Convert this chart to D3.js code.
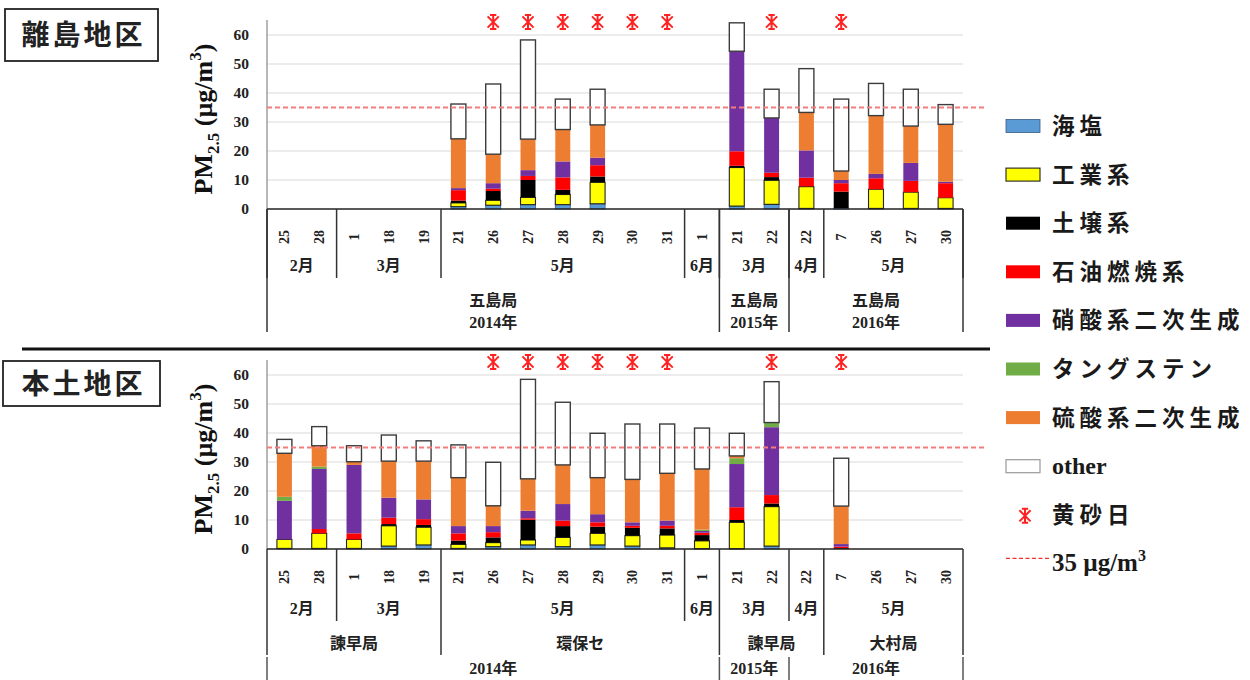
<!DOCTYPE html>
<html>
<head>
<meta charset="utf-8">
<script src="https://cdn.jsdelivr.net/npm/d3@7"></script>
<style>
  body { margin: 0; background: #fff; }
  svg { display: block; }
</style>
</head>
<body>
<svg id="chart" width="1250" height="680"></svg>
<script>
// ---- categories (sampling days) ----
const days = ["25","28","1","18","19","21","26","27","28","29","30","31","1","21","22","22","7","26","27","30"];

// month groups: [label, first index, end index (exclusive)]
const monthGroups = [["2月",0,2],["3月",2,5],["5月",5,12],["6月",12,13],["3月",13,15],["4月",15,16],["5月",16,20]];
// island panel: station + year groups
const islandStationGroups = [["五島局","2014年",0,13],["五島局","2015年",13,15],["五島局","2016年",15,20]];
// mainland panel: station groups and year groups
const mainStationGroups = [["諫早局",0,5],["環保セ",5,13],["諫早局",13,16],["大村局",16,20]];
const mainYearGroups = [["2014年",0,13],["2015年",13,15],["2016年",15,20]];

const yTicks = [0,10,20,30,40,50,60];
const guideline = 35;

// ---- component names ----
const components = ["海塩","工業系","土壌系","石油燃焼系","硝酸系二次生成","タングステン","硫酸系二次生成","other"];

// ---- 離島地区 (五島局) source contributions, µg/m3 ----
const islandSeaSalt   = [0,0,0,0,0, 0.8,1.3,1.5,1.5,1.8, 0,0,0, 1.0,1.6, 0.2,0.3,0.2,0.2,0.2];
const islandIndustry  = [0,0,0,0,0, 1.3,1.7,2.5,3.5,7.4, 0,0,0, 13.3,8.3, 7.5,0,6.6,5.6,3.7];
const islandSoil      = [0,0,0,0,0, 0.8,3.2,6.0,1.6,2.0, 0,0,0, 0.6,1.1, 0.1,5.7,0,0,0];
const islandOil       = [0,0,0,0,0, 3.6,0.8,1.4,4.3,3.9, 0,0,0, 5.0,1.5, 3.0,2.9,3.8,3.9,5.0];
const islandNitrate   = [0,0,0,0,0, 0.7,1.9,2.0,5.5,2.6, 0,0,0, 34.5,18.9, 9.4,1.1,1.5,6.2,0.5];
const islandTungsten  = [0,0,0,0,0, 0,0,0,0,0, 0,0,0, 0,0, 0,0,0,0,0];
const islandSulfate   = [0,0,0,0,0, 17.0,10.0,10.7,11.0,11.3, 0,0,0, 0,0, 13.1,3.1,20.1,12.7,19.8];
const islandOther     = [0,0,0,0,0, 12.0,24.2,34.2,10.5,12.3, 0,0,0, 9.8,9.9, 15.1,24.8,11.1,12.7,6.8];
const islandKosa      = [0,0,0,0,0, 0,1,1,1,1, 1,1,0, 0,1, 0,1,0,0,0];

// ---- 本土地区 source contributions, µg/m3 ----
const mainSeaSalt   = [0.2,0.2,0.2,1.0,1.4, 0.2,0.8,1.4,0.8,1.4, 1.0,0.4,0.1, 0.1,1.0, 0,0,0,0,0];
const mainIndustry  = [3.1,5.2,3.1,7.0,6.1, 1.4,1.4,1.7,3.2,4.0, 3.6,4.4,2.7, 9.1,13.6, 0,0,0,0,0];
const mainSoil      = [0,0,0,0.6,0.8, 1.3,1.8,7.0,3.9,2.3, 2.7,2.3,2.0, 0.8,1.1, 0,0.3,0,0,0];
const mainOil       = [0,1.5,2.1,2.2,2.0, 2.5,1.8,0.5,1.9,1.5, 0.7,0.9,0.8, 4.4,2.9, 0,0.5,0,0,0];
const mainNitrate   = [13.3,20.7,23.6,6.9,6.8, 2.5,2.1,2.6,5.7,2.8, 1.2,1.8,0.6, 14.9,23.4, 0,0.9,0,0,0];
const mainTungsten  = [1.4,0.8,0,0,0, 0,0,0,0,0, 0,0,0.5, 2.0,1.6, 0,0,0,0,0];
const mainSulfate   = [15.0,7.2,1.1,12.6,13.2, 16.7,7.0,11.0,13.5,12.6, 14.8,16.3,20.9, 0.8,0, 0,13.1,0,0,0];
const mainOther     = [4.8,6.6,5.5,9.0,7.0, 11.3,15.0,34.3,21.6,15.3, 19.1,17.0,14.1, 7.8,14.1, 0,16.5,0,0,0];
const mainKosa      = [0,0,0,0,0, 0,1,1,1,1, 1,1,0, 0,1, 0,1,0,0,0];

// ---- styling ----
const colors = {
  "海塩": "#5b9bd5", "工業系": "#ffff00", "土壌系": "#000000", "石油燃焼系": "#ff0000",
  "硝酸系二次生成": "#7030a0", "タングステン": "#70ad47", "硫酸系二次生成": "#ed7d31", "other": "#ffffff"
};
const strokes = {
  "海塩": ["#3a5a80", 0.8], "工業系": ["#222", 1.1], "other": ["#3c3c3c", 1.4]
};
const serif = "'Liberation Serif','Times New Roman','Noto Sans CJK JP',serif";
const gothic = "'Noto Sans CJK JP','Noto Sans',sans-serif";

const svg = d3.select("#chart");

const x = d3.scaleBand()
  .domain(d3.range(days.length))
  .range([267, 963])
  .paddingInner(0.57)
  .paddingOuter(0.285);
const step = x.step();
const edge = k => k >= days.length ? x.range()[1] : x(k) - step * x.paddingInner() / 2;

function asteriskPath(cx, cy, r) {
  const d = r * 0.8, c = r * 0.45;
  return `M${cx-d},${cy-d}L${cx+d},${cy+d}M${cx+d},${cy-d}L${cx-d},${cy+d}` +
         `M${cx},${cy-r}L${cx},${cy+r}M${cx-c},${cy-r}L${cx+c},${cy-r}M${cx-c},${cy+r}L${cx+c},${cy+r}`;
}

function drawPanel(cfg) {
  const g = svg.append("g");
  const y = d3.scaleLinear().domain([0, 60]).range([cfg.y0, cfg.y0 - 174]);

  // gridlines
  g.append("g").selectAll("line").data(yTicks.filter(t => t > 0)).join("line")
    .attr("x1", 267).attr("x2", 963)
    .attr("y1", d => y(d)).attr("y2", d => y(d))
    .attr("stroke", "#d9d9d9").attr("stroke-width", 1.2);

  // y axis
  const ax = g.append("g").attr("transform", "translate(267,0)")
    .call(d3.axisLeft(y).tickValues(yTicks).tickSize(0).tickPadding(18));
  ax.select(".domain").remove();
  ax.selectAll("text").attr("font-family", serif).attr("font-weight", "bold")
    .attr("font-size", 15.5).attr("fill", "#222");
  g.append("line").attr("x1", 267).attr("x2", 267)
    .attr("y1", cfg.plotTop).attr("y2", cfg.y0)
    .attr("stroke", "#888").attr("stroke-width", 1.2);

  // y axis title
  const title = g.append("text")
    .attr("transform", `translate(${cfg.titleX},${y(30) - 3}) rotate(-90)`)
    .attr("text-anchor", "middle")
    .attr("font-family", serif).attr("font-weight", "bold").attr("font-size", 26)
    .attr("fill", "#111");
  title.append("tspan").text("PM");
  title.append("tspan").text("2.5").attr("font-size", 17).attr("dy", 7);
  title.append("tspan").text(" (µg/m").attr("dy", -7);
  title.append("tspan").text("3").attr("font-size", 17).attr("dy", -11);
  title.append("tspan").text(")").attr("dy", 11);

  // stacked bars
  const rows = days.map((_, i) => {
    const r = {};
    components.forEach((c, k) => r[c] = cfg.series[k][i]);
    return r;
  });
  const stacked = d3.stack().keys(components)(rows);
  const bars = g.append("g");
  stacked.forEach(layer => {
    const key = layer.key;
    const st = strokes[key];
    bars.append("g").selectAll("rect")
      .data(layer.map((d, i) => ({ i, y0: d[0], y1: d[1] })).filter(d => d.y1 - d.y0 > 0))
      .join("rect")
      .attr("x", d => x(d.i))
      .attr("width", x.bandwidth())
      .attr("y", d => y(d.y1))
      .attr("height", d => y(d.y0) - y(d.y1))
      .attr("fill", colors[key])
      .attr("stroke", st ? st[0] : "none")
      .attr("stroke-width", st ? st[1] : 0);
  });

  // 35 µg/m3 guideline
  g.append("line").attr("x1", 267).attr("x2", 985)
    .attr("y1", y(guideline)).attr("y2", y(guideline))
    .attr("stroke", "#f47c7c").attr("stroke-width", 2).attr("stroke-dasharray", "5,3");

  // yellow-sand day markers
  g.append("g").selectAll("path")
    .data(d3.range(days.length).filter(i => cfg.kosa[i]))
    .join("path")
    .attr("d", i => asteriskPath(x(i) + x.bandwidth() / 2, cfg.plotTop + 2, 7))
    .attr("stroke", "#ff2020").attr("stroke-width", 2).attr("fill", "none");

  // x axis baseline
  g.append("line").attr("x1", 267).attr("x2", 963)
    .attr("y1", cfg.y0).attr("y2", cfg.y0)
    .attr("stroke", "#222").attr("stroke-width", 1.5);

  // day labels
  g.append("g").selectAll("text").data(days).join("text")
    .attr("transform", (d, i) => `translate(${x(i) + x.bandwidth() / 2 + 5},${cfg.y0 + 28}) rotate(-90)`)
    .attr("text-anchor", "middle")
    .attr("font-family", serif).attr("font-weight", "bold").attr("font-size", 14)
    .attr("fill", "#222").text(d => d);

  // category separator lines per level
  const sep = g.append("g").attr("stroke-width", 1.5);
  cfg.levels.forEach(lv => {
    const bounds = new Set();
    lv.groups.forEach(gr => { bounds.add(gr[gr.length - 2]); bounds.add(gr[gr.length - 1]); });
    bounds.forEach(k => {
      sep.append("line").attr("x1", edge(k)).attr("x2", edge(k))
        .attr("y1", cfg.y0 + lv.from).attr("y2", cfg.y0 + lv.to)
        .attr("stroke", lv.color || "#333");
    });
    lv.groups.forEach(gr => {
      const cx = (edge(gr[gr.length - 2]) + edge(gr[gr.length - 1])) / 2;
      lv.lines.forEach((ly, j) => {
        g.append("text")
          .attr("x", cx).attr("y", cfg.y0 + ly)
          .attr("text-anchor", "middle")
          .attr("font-family", serif).attr("font-weight", "bold").attr("font-size", 16)
          .attr("fill", "#222")
          .text(gr[j]);
      });
    });
  });

  // region label box
  const box = svg.append("g");
  box.append("rect").attr("x", cfg.box[0]).attr("y", cfg.box[1])
    .attr("width", cfg.box[2]).attr("height", cfg.box[3])
    .attr("fill", "#fff").attr("stroke", "#222").attr("stroke-width", 1.8);
  box.append("text")
    .attr("x", cfg.box[0] + cfg.box[2] / 2 + 2).attr("y", cfg.box[1] + cfg.box[3] / 2 + 10)
    .attr("text-anchor", "middle")
    .attr("font-family", gothic).attr("font-weight", "bold").attr("font-size", 28)
    .attr("letter-spacing", 3).attr("fill", "#222")
    .text(cfg.region);
}

drawPanel({
  region: "離島地区", box: [5, 9, 153, 52],
  y0: 209, plotTop: 20, titleX: 212,
  series: [islandSeaSalt, islandIndustry, islandSoil, islandOil, islandNitrate, islandTungsten, islandSulfate, islandOther],
  kosa: islandKosa,
  levels: [
    { groups: monthGroups, from: 0, to: 69, lines: [62] },
    { groups: islandStationGroups, from: 0, to: 123, lines: [97, 119] }
  ]
});

drawPanel({
  region: "本土地区", box: [3, 361, 157, 45],
  y0: 549, plotTop: 360, titleX: 212,
  series: [mainSeaSalt, mainIndustry, mainSoil, mainOil, mainNitrate, mainTungsten, mainSulfate, mainOther],
  kosa: mainKosa,
  levels: [
    { groups: monthGroups, from: 0, to: 72, lines: [65] },
    { groups: mainStationGroups, from: 72, to: 106, lines: [100] },
    { groups: mainYearGroups, from: 108, to: 131, lines: [125], color: "#555" }
  ]
});

// panel divider
svg.append("line").attr("x1", 22).attr("x2", 990).attr("y1", 349).attr("y2", 349)
  .attr("stroke", "#111").attr("stroke-width", 3);

// legend
const legend = svg.append("g");
const legendItems = components.map(c => ({ label: c, type: "box" }))
  .concat([{ label: "黄砂日", type: "kosa" }, { label: "35 µg/m3", type: "line" }]);
legendItems.forEach((it, k) => {
  const cy = 126 + k * 48.6;
  if (it.type === "box") {
    const st = it.label === "other" ? ["#999", 1.2] : (strokes[it.label] || null);
    legend.append("rect").attr("x", 1006).attr("y", cy - 6.5).attr("width", 34).attr("height", 13)
      .attr("fill", colors[it.label])
      .attr("stroke", st ? st[0] : "none").attr("stroke-width", st ? st[1] : 0);
  } else if (it.type === "kosa") {
    legend.append("path").attr("d", asteriskPath(1025, cy + 1, 7))
      .attr("stroke", "#ff2020").attr("stroke-width", 2).attr("fill", "none");
  } else {
    legend.append("line").attr("x1", 1006).attr("x2", 1050).attr("y1", cy - 5).attr("y2", cy - 5)
      .attr("stroke", "#f03030").attr("stroke-width", 1.4).attr("stroke-dasharray", "4,2.5");
  }
  const t = legend.append("text").attr("x", 1052).attr("y", cy + 8)
    .attr("font-weight", "bold").attr("fill", "#1a1a1a");
  if (it.type === "line") {
    t.attr("font-family", serif).attr("font-size", 25);
    t.append("tspan").text("35 µg/m");
    t.append("tspan").text("3").attr("font-size", 16).attr("dy", -10);
  } else if (it.label === "other") {
    t.attr("font-family", serif).attr("font-size", 24).text("other");
  } else {
    t.attr("font-family", gothic).attr("font-size", 22.5).attr("letter-spacing", 5).text(it.label);
  }
});
</script>
</body>
</html>
